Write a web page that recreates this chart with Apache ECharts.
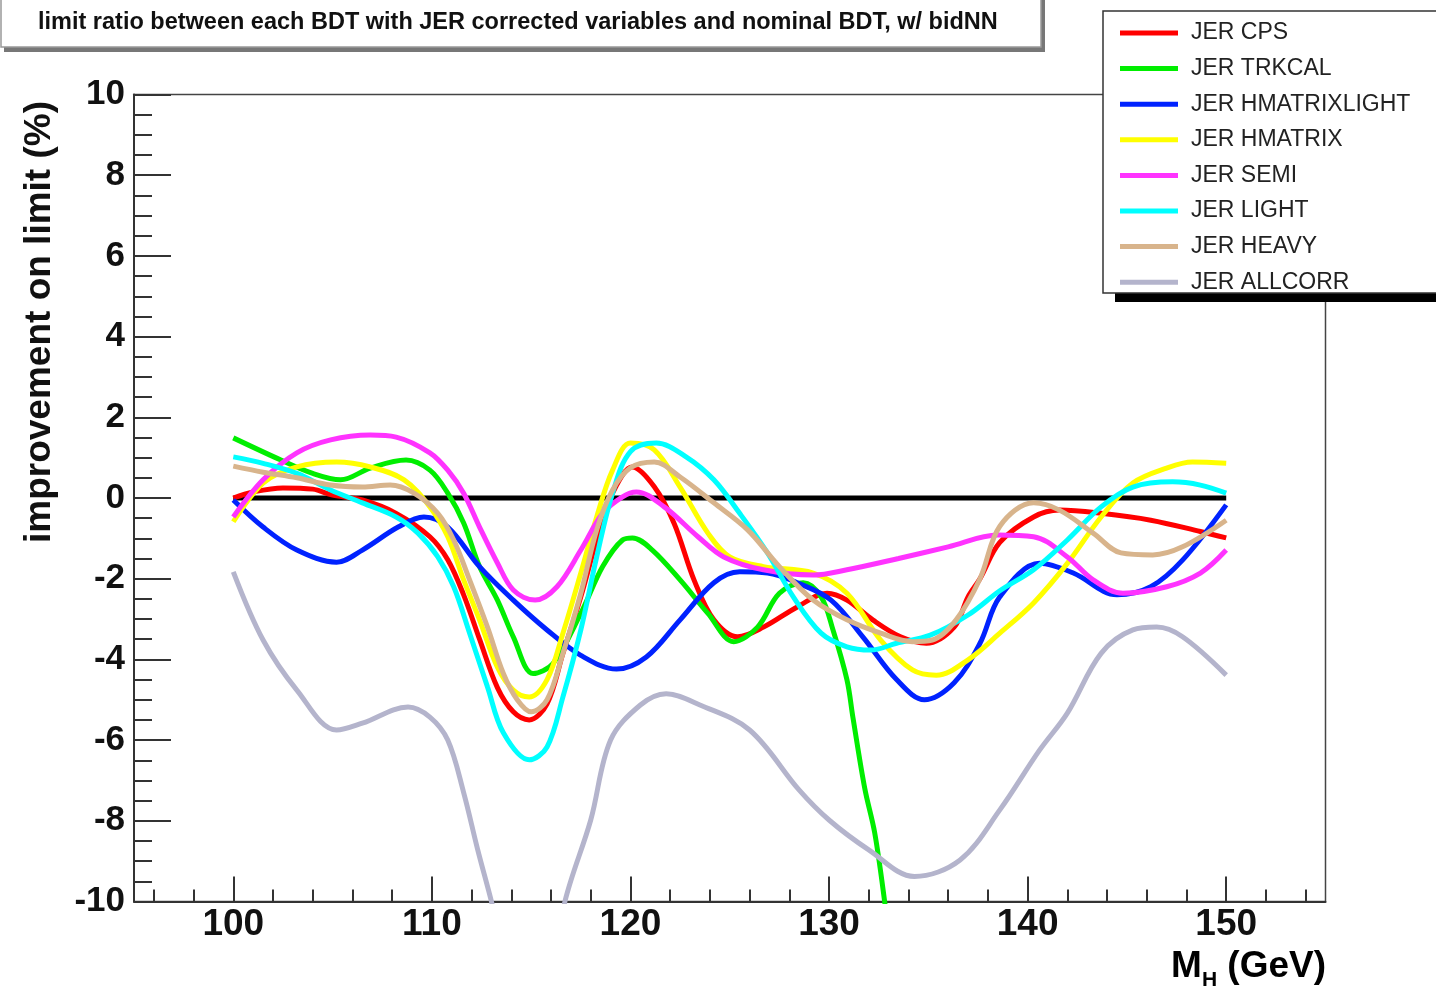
<!DOCTYPE html>
<html>
<head>
<meta charset="utf-8">
<script src="https://cdn.jsdelivr.net/npm/echarts@6/dist/echarts.min.js"></script>
<style>
  html, body { margin: 0; padding: 0; background: #fff; }
  #chart { width: 1436px; height: 986px; }
</style>
</head>
<body>
<div id="chart"></div>
<script>
// 读图得到的数据 [M_H, improvement %]
const seriesNames = ['JER CPS', 'JER TRKCAL', 'JER HMATRIXLIGHT', 'JER HMATRIX', 'JER SEMI', 'JER LIGHT', 'JER HEAVY', 'JER ALLCORR'];
const seriesColors = ['#ff0000', '#00ee00', '#0022ff', '#ffff00', '#ff33ff', '#00ffff', '#d8b48c', '#b4b4cc'];

const cps = [[100,0.0],[101,0.15],[102.5,0.25],[104,0.22],[105,0.07],[106.5,-0.05],[108.2,-0.38],[109.9,-0.96],[110.8,-1.53],[111.6,-2.4],[112.4,-3.5],[113.3,-4.7],[114.1,-5.3],[114.9,-5.5],[115.8,-5.1],[116.6,-3.85],[117.5,-2.45],[118.3,-1.04],[119.1,0.12],[120.1,0.77],[121.2,0.28],[122.2,-0.63],[123.2,-2.03],[124.2,-3.02],[125.4,-3.44],[126.7,-3.2],[128.4,-2.7],[129.9,-2.36],[130.9,-2.53],[132.2,-3.02],[133.6,-3.44],[134.9,-3.6],[136.3,-3.2],[137,-2.45],[137.6,-2.0],[138.6,-1.1],[140.3,-0.47],[141.6,-0.3],[143.7,-0.38],[146.2,-0.55],[148.7,-0.83],[150,-0.99]];
const trkcal = [[100,1.49],[102.4,0.94],[104,0.61],[105.4,0.45],[106.9,0.74],[108.7,0.94],[109.9,0.69],[110.8,0.12],[111.6,-0.62],[112.4,-1.7],[113.3,-2.53],[114.1,-3.44],[115.1,-4.35],[116.1,-4.1],[117.5,-2.86],[118.6,-1.7],[119.6,-1.04],[120.1,-0.99],[121.1,-1.29],[122.5,-2.03],[123.9,-2.86],[125.2,-3.56],[126.4,-3.2],[127.5,-2.36],[128.7,-2.1],[129.6,-2.45],[130.2,-3.27],[130.9,-4.5],[131.2,-5.43],[131.8,-7.2],[132.3,-8.3],[132.8,-10],[133.3,-12]];
const hmatrixlight = [[100,-0.05],[101.5,-0.72],[103.2,-1.29],[105.2,-1.59],[106.5,-1.29],[108.3,-0.72],[109.6,-0.47],[110.8,-0.72],[112.4,-1.7],[114.1,-2.53],[115.8,-3.27],[117.5,-3.9],[119.3,-4.24],[120.8,-3.94],[122.5,-3.02],[124.2,-2.1],[125.5,-1.83],[126.9,-1.86],[128.4,-2.1],[130.1,-2.53],[131.7,-3.44],[133.4,-4.5],[134.8,-5.0],[136.3,-4.58],[137.6,-3.6],[138.6,-2.45],[140.6,-1.62],[142.3,-1.86],[144.5,-2.4],[146.2,-2.2],[147.8,-1.54],[150,-0.17]];
const hmatrix = [[100,-0.59],[101.5,0.37],[103.2,0.77],[105.2,0.89],[106.9,0.77],[108.6,0.45],[109.9,-0.22],[110.8,-0.96],[111.6,-2.03],[112.4,-3.02],[113.3,-4.19],[114.1,-4.76],[114.9,-4.93],[115.8,-4.5],[116.6,-3.35],[117.5,-1.86],[118.3,-0.47],[119.1,0.69],[120,1.36],[121.2,1.19],[122.5,0.27],[123.9,-0.87],[125,-1.46],[126.7,-1.7],[129.2,-1.86],[130.9,-2.36],[132.6,-3.52],[134.2,-4.26],[135.4,-4.39],[137,-4.01],[138.6,-3.35],[140.3,-2.6],[142,-1.62],[143.7,-0.47],[145.3,0.37],[147,0.74],[148.3,0.89],[150,0.86]];
const semi = [[100,-0.47],[101.5,0.45],[103.2,1.12],[104.9,1.44],[106.9,1.56],[108.2,1.51],[109.9,1.12],[110.8,0.69],[111.6,0.12],[112.4,-0.72],[113.3,-1.61],[114.1,-2.28],[115.2,-2.53],[116.3,-2.2],[117.5,-1.29],[118.6,-0.38],[119.6,0.03],[120.3,0.15],[121.7,-0.22],[123.4,-0.96],[124.7,-1.46],[126.7,-1.78],[129.2,-1.91],[130.9,-1.78],[133.5,-1.5],[136,-1.21],[138.5,-0.92],[140.3,-0.96],[142,-1.46],[143.3,-2.03],[144.8,-2.36],[147,-2.2],[148.7,-1.86],[150,-1.29]];
const light = [[100,1.02],[101.5,0.86],[103.2,0.61],[104.9,0.2],[106.5,-0.12],[108.2,-0.47],[109.3,-0.87],[110.3,-1.46],[111.1,-2.2],[111.9,-3.35],[112.8,-4.68],[113.6,-5.82],[114.9,-6.49],[115.8,-6.17],[116.6,-4.93],[117.5,-3.27],[118.3,-1.46],[119.1,0.12],[120,1.15],[121.3,1.36],[122.8,1.02],[124.2,0.45],[125.5,-0.38],[126.9,-1.36],[128.2,-2.45],[129.6,-3.35],[130.9,-3.69],[132.1,-3.77],[133.4,-3.6],[135.1,-3.4],[137,-2.9],[138.6,-2.3],[140.3,-1.78],[142,-1.04],[143.7,-0.22],[145.3,0.27],[147.3,0.4],[148.7,0.32],[150,0.12]];
const heavy = [[100,0.79],[101.5,0.64],[103.2,0.5],[104.9,0.32],[106.5,0.27],[107.9,0.32],[109.1,0.12],[110.3,-0.38],[111.1,-1.04],[111.9,-2.03],[112.8,-3.2],[113.6,-4.35],[114.3,-5.0],[115,-5.3],[115.8,-5.0],[116.6,-3.85],[117.5,-2.36],[118.3,-0.79],[119.1,0.2],[120,0.75],[121.2,0.89],[122.5,0.52],[124.2,-0.12],[125.9,-0.79],[127.5,-1.7],[129.2,-2.53],[130.9,-3.02],[132.6,-3.35],[134.2,-3.56],[135.2,-3.52],[136.4,-3.02],[137.6,-2.0],[138.6,-0.7],[140.3,-0.12],[141.6,-0.3],[143.3,-0.87],[144.7,-1.36],[146.3,-1.41],[147.8,-1.21],[150,-0.55]];
const allcorr = [[100,-1.83],[101.5,-3.52],[103.2,-4.76],[105.2,-5.75],[106.5,-5.58],[108.8,-5.18],[109.9,-5.43],[110.8,-6.0],[111.6,-7.3],[112.3,-8.7],[113,-10],[114,-12],[115,-12.7],[116,-12],[116.7,-10],[118,-7.98],[119,-6.0],[120.5,-5.13],[121.8,-4.85],[123.5,-5.13],[126,-5.75],[128.5,-7.24],[130,-7.98],[132,-8.72],[134.3,-9.38],[136.6,-8.97],[138.6,-7.73],[140.6,-6.25],[142,-5.33],[143.7,-3.85],[145.3,-3.27],[146.5,-3.2],[147.8,-3.44],[150,-4.39]];
const zeroLine = [[100,0],[150,0]];

// 坐标轴刻度
const xMajorTicks = [100, 110, 120, 130, 140, 150];
const xMinorTicks = [96, 98, 102, 104, 106, 108, 112, 114, 116, 118, 122, 124, 126, 128, 132, 134, 136, 138, 142, 144, 146, 148, 152, 154];

const allData = [cps, trkcal, hmatrixlight, hmatrix, semi, light, heavy, allcorr];
const FONT = '"Liberation Sans", Arial, sans-serif';

const myChart = echarts.init(document.getElementById('chart'));

const series = [{
    name: 'zero',
    type: 'line',
    data: zeroLine,
    symbol: 'none',
    lineStyle: { color: '#000', width: 5 },
    silent: true,
    z: 1
}];
allData.forEach((d, i) => {
    series.push({
        name: seriesNames[i],
        type: 'line',
        data: d,
        smooth: 0.35,
        symbol: 'none',
        color: seriesColors[i],
        lineStyle: { color: seriesColors[i], width: 5 },
        z: 2 + i
    });
});

const option = {
    animation: false,
    backgroundColor: '#fff',
    title: {
        text: 'limit ratio between each BDT with JER corrected variables and nominal BDT, w/ bidNN',
        left: 33,
        top: 6,
        textStyle: { fontFamily: FONT, fontWeight: 'bold', fontSize: 23.5, color: '#111' },
        z: 30
    },
    grid: {
        left: 134, right: 110.5, top: 94.5, bottom: 84.5,
        show: true,
        borderColor: '#444',
        borderWidth: 1.5,
        containLabel: false
    },
    legend: {
        data: seriesNames,
        orient: 'vertical',
        left: 1115,
        top: 16.5,
        icon: 'rect',
        itemWidth: 58,
        itemHeight: 5,
        itemGap: 12.6,
        textStyle: { fontFamily: FONT, fontSize: 23, lineHeight: 23, color: '#222', padding: [0, 0, 0, 8] },
        z: 30
    },
    xAxis: [{
        type: 'value',
        min: 95, max: 155,
        position: 'bottom',
        splitLine: { show: false },
        axisLine: { show: true, onZero: false, lineStyle: { color: '#333', width: 2 } },
        axisTick: { show: true, inside: true, length: 25, customValues: xMajorTicks, lineStyle: { color: '#333', width: 2 } },
        axisLabel: { customValues: xMajorTicks, margin: 5, fontFamily: FONT, fontWeight: 'bold', fontSize: 37, color: '#111' }
    }, {
        type: 'value',
        min: 95, max: 155,
        position: 'bottom',
        splitLine: { show: false },
        axisLine: { show: false, onZero: false },
        axisTick: { show: true, inside: true, length: 12, customValues: xMinorTicks, lineStyle: { color: '#333', width: 2 } },
        axisLabel: { show: false }
    }],
    yAxis: {
        type: 'value',
        min: -10, max: 10, interval: 2,
        splitLine: { show: false },
        axisLine: { show: true, onZero: false, lineStyle: { color: '#333', width: 2 } },
        axisTick: { show: true, inside: true, length: 37, lineStyle: { color: '#333', width: 2 } },
        minorTick: { show: true, splitNumber: 4, length: 18, lineStyle: { color: '#333', width: 2 } },
        axisLabel: { margin: 9, fontFamily: FONT, fontWeight: 'bold', fontSize: 35, color: '#111' }
    },
    graphic: [
        // 标题框 + 阴影
        { type: 'rect', z: 20, shape: { x: 4, y: -10, width: 1041, height: 62 }, style: { fill: '#777' } },
        { type: 'rect', z: 21, shape: { x: 1, y: -10, width: 1040, height: 57 }, style: { fill: '#fff', stroke: '#999', lineWidth: 1.5 } },
        // 图例框 + 阴影
        { type: 'rect', z: 20, shape: { x: 1115, y: 20, width: 400, height: 282 }, style: { fill: '#000' } },
        { type: 'rect', z: 21, shape: { x: 1103, y: 11, width: 400, height: 282 }, style: { fill: '#fff', stroke: '#333', lineWidth: 1.5 } },
        // y轴标题
        {
            type: 'text', z: 25, x: 40, y: 322, rotation: Math.PI / 2,
            style: { text: 'improvement on limit (%)', font: 'bold 37px ' + FONT, fill: '#111', textAlign: 'center', textVerticalAlign: 'middle' }
        },
        // x轴标题
        {
            type: 'text', z: 25, x: 1326, y: 948,
            style: {
                text: '{m|M}{s|H}{m| (GeV)}',
                align: 'right',
                rich: {
                    m: { fontFamily: FONT, fontWeight: 'bold', fontSize: 37, color: '#111', verticalAlign: 'top' },
                    s: { fontFamily: FONT, fontWeight: 'bold', fontSize: 21, color: '#111', padding: [22, 0, 0, 0], verticalAlign: 'top' }
                }
            }
        }
    ],
    series: series
};
myChart.setOption(option);
</script>
</body>
</html>
